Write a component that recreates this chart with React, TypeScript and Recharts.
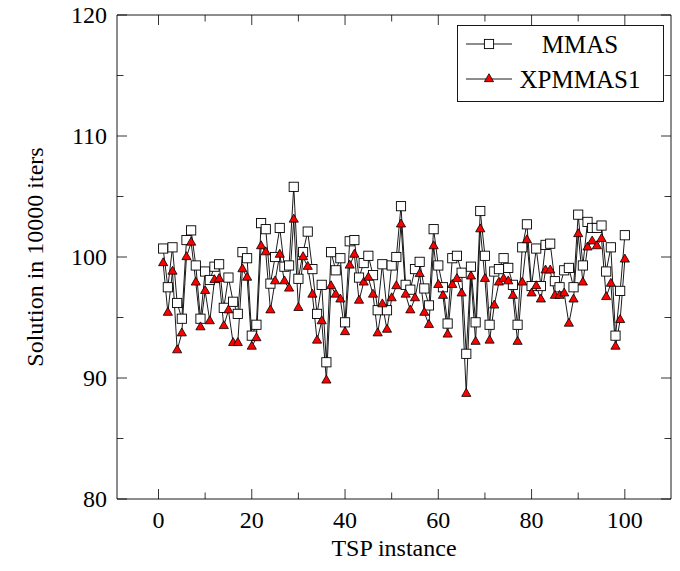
import { LineChart, Line, XAxis, YAxis, ReferenceArea, Legend } from 'recharts'

// Solution after 10000 iterations, one value per TSP instance (1..100)
const mmas = [
  100.7, 97.5, 100.8, 96.2, 94.9, 101.4, 102.2, 99.3, 94.9, 98.8,
  98.1, 99.2, 99.4, 95.8, 98.3, 96.3, 95.3, 100.4, 99.9, 93.5,
  94.4, 102.8, 102.3, 97.8, 100.0, 102.4, 99.2, 99.3, 105.8, 98.2,
  100.4, 102.1, 99.0, 95.3, 97.7, 91.3, 100.4, 98.9, 99.9, 94.6,
  101.3, 101.4, 98.3, 99.5, 100.1, 98.5, 95.6, 99.4, 95.6, 99.3,
  100.0, 104.2, 97.7, 97.3, 99.0, 99.6, 97.4, 96.0, 102.3, 99.3,
  97.5, 94.5, 99.9, 100.1, 98.7, 92.0, 99.2, 94.6, 103.8, 100.1,
  94.4, 98.8, 99.0, 99.9, 99.1, 97.7, 94.4, 100.8, 102.7, 97.6,
  100.7, 97.6, 101.0, 101.1, 98.0, 97.5, 98.9, 99.1, 97.5, 103.5,
  99.3, 102.9, 102.4, 102.4, 102.6, 98.8, 100.8, 93.5, 97.2, 101.8,
]

const xpmmas1 = [
  99.5, 95.4, 98.8, 92.3, 93.7, 100.0, 101.2, 97.9, 94.2, 97.2,
  94.7, 98.1, 98.2, 94.3, 95.6, 92.9, 92.9, 99.0, 98.3, 92.6,
  93.3, 100.9, 100.4, 95.6, 98.0, 100.2, 98.0, 97.4, 103.1, 95.8,
  100.0, 99.2, 96.9, 93.1, 94.7, 89.8, 97.6, 96.9, 96.5, 93.8,
  99.3, 100.2, 96.4, 97.9, 98.3, 96.9, 93.7, 96.1, 94.0, 96.6,
  97.6, 102.7, 96.9, 95.6, 96.6, 98.6, 95.4, 94.4, 100.9, 97.7,
  96.8, 93.6, 97.7, 98.2, 97.0, 88.7, 98.4, 93.0, 102.3, 98.2,
  93.1, 96.0, 97.9, 98.2, 98.0, 96.8, 93.0, 97.9, 101.4, 97.0,
  97.6, 96.5, 98.9, 98.9, 96.8, 96.8, 97.0, 94.5, 96.5, 101.9,
  97.9, 100.8, 101.3, 100.9, 101.5, 96.7, 97.8, 92.6, 94.8, 99.8,
]

const xTicks = [0, 10, 20, 30, 40, 50, 60, 70, 80, 90, 100]
const yTicks = [80, 85, 90, 95, 100, 105, 110, 115, 120]
const xDomain = [-8.9, 109.9]
const yDomain = [80, 120]

const chartData = mmas.map((v, i) => ({ instance: i + 1, MMAS: v, XPMMAS1: xpmmas1[i] }))

const txt = { fontFamily: "'Liberation Serif', 'Times New Roman', Times, serif", fontSize: 24, fill: '#000' }
const PLOT_W = 554
const PLOT_H = 484
const MAJOR = 10
const MINOR = 6.5

const XTick = (p: any) => {
  const { x, y, payload } = p
  const major = payload.value % 20 === 0
  const len = major ? MAJOR : MINOR
  const top = y - PLOT_H
  return (
    <g>
      <line x1={x} x2={x} y1={y} y2={y - len} stroke="#000" strokeWidth={0.8} />
      <line x1={x} x2={x} y1={top} y2={top + len} stroke="#000" strokeWidth={0.8} />
      {major && (
        <text x={x} y={y + 21} textAnchor="middle" dominantBaseline="central" style={txt}>
          {payload.value}
        </text>
      )}
    </g>
  )
}

const YTick = (p: any) => {
  const { x, y, payload } = p
  const major = payload.value % 10 === 0
  const len = major ? MAJOR : MINOR
  const right = x + PLOT_W
  return (
    <g>
      <line x1={x} x2={x + len} y1={y} y2={y} stroke="#000" strokeWidth={0.8} />
      <line x1={right} x2={right - len} y1={y} y2={y} stroke="#000" strokeWidth={0.8} />
      {major && (
        <text x={x - 10} y={y} textAnchor="end" dominantBaseline="central" style={txt}>
          {payload.value}
        </text>
      )}
    </g>
  )
}

const Square = (p: any) => {
  const { cx, cy, index } = p
  return <rect key={'s' + index} x={cx - 4.6} y={cy - 4.6} width={9.2} height={9.2} fill="#fff" stroke="#000" strokeWidth={0.9} />
}

const triPath = (cx: number, cy: number, r: number) =>
  `M${cx},${cy - r}L${cx + r * 0.866},${cy + r / 2}L${cx - r * 0.866},${cy + r / 2}Z`

const Triangle = (p: any) => {
  const { cx, cy, index } = p
  return <path key={'t' + index} d={triPath(cx, cy, 5.3)} fill="#ff0000" stroke="#000" strokeWidth={0.8} />
}

const LegendBox = () => (
  <svg width={207} height={77} style={{ display: 'block' }}>
    <rect x={0.5} y={0.5} width={206} height={76} fill="#fff" stroke="#000" strokeWidth={0.9} />
    <line x1={9} x2={55} y1={19} y2={19} stroke="#000" strokeWidth={0.9} />
    <rect x={27.4} y={14.4} width={9.2} height={9.2} fill="#fff" stroke="#000" strokeWidth={0.9} />
    <text x={123} y={19} textAnchor="middle" dominantBaseline="central" style={{ ...txt, fontSize: 25 }}>MMAS</text>
    <line x1={9} x2={55} y1={54} y2={54} stroke="#000" strokeWidth={0.9} />
    <path d={triPath(32, 54, 5.3)} fill="#ff0000" stroke="#000" strokeWidth={0.8} />
    <text x={123} y={54} textAnchor="middle" dominantBaseline="central" style={{ ...txt, fontSize: 25 }}>XPMMAS1</text>
  </svg>
)

export default function App() {
  return (
    <div style={{ position: 'fixed', left: 0, top: 0, width: 680, height: 571, background: '#fff' }}>
      <LineChart width={680} height={571} data={chartData} margin={{ top: 15, right: 9, bottom: 0, left: 0 }}>
        <XAxis
          type="number"
          dataKey="instance"
          domain={xDomain}
          ticks={xTicks}
          interval={0}
          height={72}
          axisLine={false}
          tickLine={false}
          tickSize={0}
          tickMargin={0}
          tick={(p: any) => <XTick {...p} />}
          label={(props: any) => {
            const vb = props.viewBox
            return (
              <text x={vb.x + vb.width / 2} y={vb.y + 49} textAnchor="middle" dominantBaseline="central" style={txt}>
                TSP instance
              </text>
            )
          }}
        />
        <YAxis
          type="number"
          domain={yDomain}
          ticks={yTicks}
          interval={0}
          width={117}
          axisLine={false}
          tickLine={false}
          tickSize={0}
          tickMargin={0}
          tick={(p: any) => <YTick {...p} />}
          label={(props: any) => {
            const vb = props.viewBox
            const cy = vb.y + vb.height / 2
            return (
              <text x={35} y={cy} transform={`rotate(-90 35 ${cy})`} textAnchor="middle" dominantBaseline="central" style={txt}>
                Solution in 10000 iters
              </text>
            )
          }}
        />
        <ReferenceArea x1={xDomain[0]} x2={xDomain[1]} y1={yDomain[0]} y2={yDomain[1]} fill="none" fillOpacity={0} stroke="#000" strokeWidth={0.9} />
        <Line type="linear" dataKey="MMAS" stroke="#000" strokeWidth={0.9} dot={Square} activeDot={false} isAnimationActive={false} />
        <Line type="linear" dataKey="XPMMAS1" stroke="#000" strokeWidth={0.9} dot={Triangle} activeDot={false} isAnimationActive={false} />
        <Legend
          layout="vertical"
          align="center"
          verticalAlign="middle"
          wrapperStyle={{ position: 'absolute', left: 457, top: 25, width: 207, height: 77 }}
          content={() => <LegendBox />}
        />
      </LineChart>
    </div>
  )
}
